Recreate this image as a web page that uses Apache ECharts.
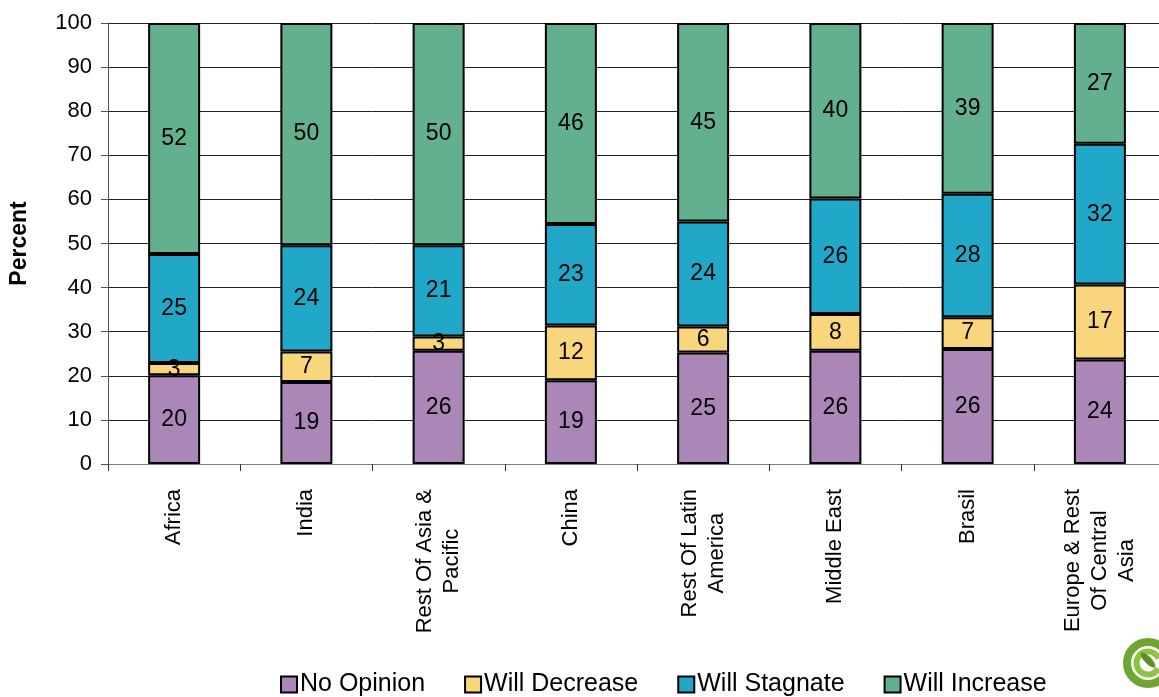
<!DOCTYPE html>
<html>
<head>
<meta charset="utf-8">
<script src="https://cdn.jsdelivr.net/npm/echarts@6/dist/echarts.min.js"></script>
<style>
html,body{margin:0;padding:0;background:#fff;overflow:hidden;}
#main{width:1166px;height:697px;}
</style>
</head>
<body>
<div id="main"></div>
<script>
const categories = ['Africa', 'India', 'Rest Of Asia &\nPacific', 'China', 'Rest Of Latin\nAmerica', 'Middle East', 'Brasil', 'Europe & Rest\nOf Central\nAsia'];
const noOpinion    = [20.1, 18.6, 25.7, 19.0, 25.3, 25.7, 26.1, 23.7];
const willDecrease = [2.8, 6.9, 3.2, 12.4, 5.9, 8.3, 7.2, 17.0];
const willStagnate = [24.7, 24.1, 20.7, 23.0, 23.8, 26.2, 28.0, 31.9];
const willIncrease = [52.4, 50.4, 50.4, 45.6, 45.0, 39.8, 38.7, 27.4];
const seriesNames = ['No Opinion', 'Will Decrease', 'Will Stagnate', 'Will Increase'];
const seriesColors = ['#AB87B8', '#F9D57B', '#21A7C7', '#63B08F'];
const seriesValues = [noOpinion, willDecrease, willStagnate, willIncrease];

const FONT = '"Liberation Sans", Arial, sans-serif';
const chart = echarts.init(document.getElementById('main'));

const series = seriesNames.map((name, i) => ({
  name: name,
  type: 'bar',
  stack: 'total',
  barWidth: 52,
  data: seriesValues[i],
  itemStyle: { color: seriesColors[i], borderColor: '#000', borderWidth: 2 },
  label: {
    show: true,
    position: 'inside',
    color: '#000',
    fontFamily: FONT,
    fontSize: 23,
    formatter: p => String(Math.round(p.value))
  },
  emphasis: { disabled: true }
}));

chart.setOption({
  animation: false,
  backgroundColor: '#fff',
  grid: { left: 108, top: 23, right: 0, height: 441, containLabel: false },
  legend: {
    data: seriesNames,
    left: 275,
    top: 667,
    icon: 'rect',
    itemWidth: 16,
    itemHeight: 16,
    itemGap: 39,
    itemStyle: { borderColor: '#000', borderWidth: 2 },
    textStyle: { fontFamily: FONT, fontSize: 25, color: '#000', padding: [0, 0, 0, -2] }
  },
  xAxis: {
    type: 'category',
    data: categories,
    axisLine: { lineStyle: { color: '#808080', width: 1 } },
    axisTick: { show: true, length: 7, lineStyle: { color: '#333' } },
    axisLabel: {
      interval: 0,
      rotate: 90,
      margin: 25,
      formatter: v => v.split('\n').map(l => '{c|' + l + '}').join('\n'),
      rich: { c: { align: 'center', fontFamily: FONT, fontSize: 22, lineHeight: 27, color: '#000' } }
    },
    splitLine: { show: false }
  },
  yAxis: {
    type: 'value',
    min: 0,
    max: 100,
    interval: 10,
    name: 'Percent',
    nameLocation: 'middle',
    nameRotate: 90,
    nameGap: 77,
    nameTextStyle: { fontFamily: FONT, fontSize: 23, fontWeight: 'bold', color: '#000' },
    axisLine: { show: true, lineStyle: { color: '#555', width: 1 } },
    axisTick: { show: true, inside: false, length: 7, lineStyle: { color: '#555' } },
    axisLabel: { margin: 16, fontFamily: FONT, fontSize: 22, color: '#000' },
    splitLine: { show: true, lineStyle: { color: '#222', width: 1 } }
  },
  graphic: [
    {
      type: 'group',
      left: 1123,
      top: 638,
      silent: true,
      children: [
        { type: 'circle', shape: { cx: 25, cy: 25, r: 21 }, style: { fill: 'none', stroke: '#6FA633', lineWidth: 8 } },
        { type: 'arc', shape: { cx: 25, cy: 25, r: 11.5, startAngle: 0.5, endAngle: 5.9, clockwise: true }, style: { fill: 'none', stroke: '#8CC43F', lineWidth: 6 } },
        { type: 'ellipse', shape: { cx: 25, cy: 22, rx: 10, ry: 3.5 }, rotation: -0.8, originX: 25, originY: 22, style: { fill: '#5E8F2A' } }
      ]
    }
  ],
  series: series
});
</script>
</body>
</html>
